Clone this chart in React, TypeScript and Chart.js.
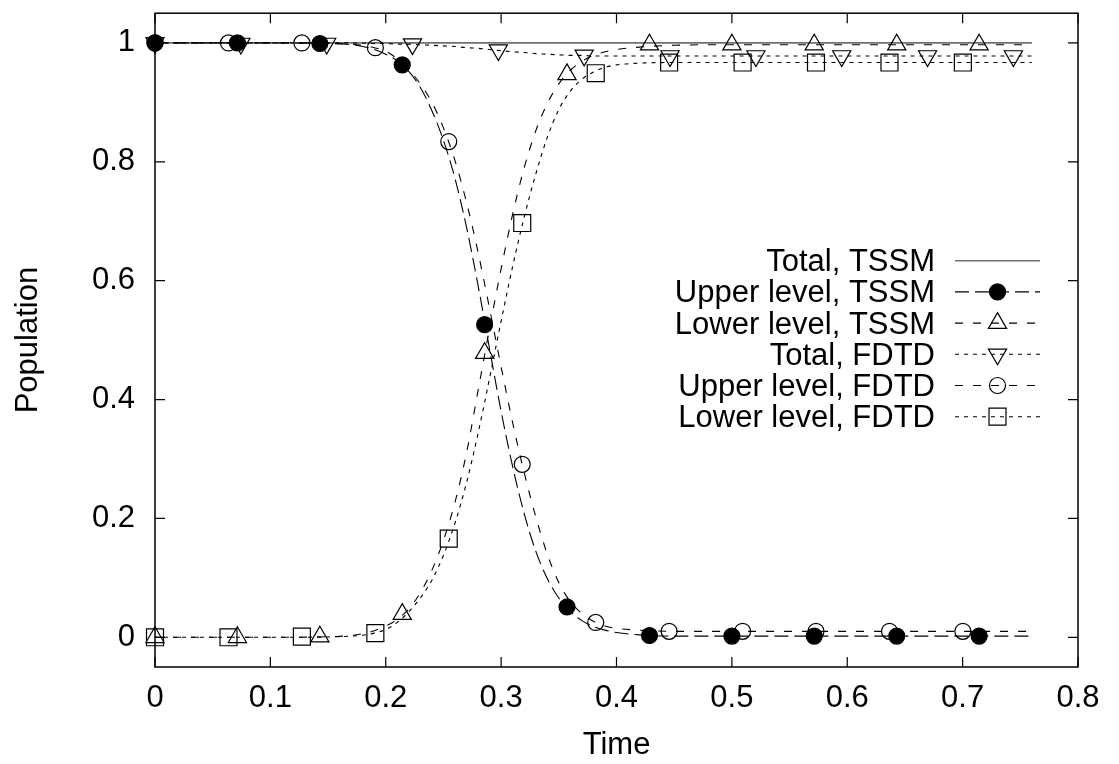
import React, { useEffect, useRef } from 'react';
import { Chart, registerables } from 'chart.js';
import { drawPoint } from 'chart.js/helpers';

Chart.register(...registerables);

// ---------- data ----------
const X_TICKS = [0, 0.1, 0.2, 0.3, 0.4, 0.5, 0.6, 0.7, 0.8];
const X_TICK_LABELS = ['0', '0.1', '0.2', '0.3', '0.4', '0.5', '0.6', '0.7', '0.8'];
const Y_TICKS = [0, 0.2, 0.4, 0.6, 0.8, 1];
const Y_TICK_LABELS = ['0', '0.2', '0.4', '0.6', '0.8', '1'];

const SERIES_LABELS = [
  'Total, TSSM',
  'Upper level, TSSM',
  'Lower level, TSSM',
  'Total, FDTD',
  'Upper level, FDTD',
  'Lower level, FDTD',
];

// time samples of the curves
const CURVE_T = [0, 0.05, 0.1, 0.15, 0.17, 0.18, 0.19, 0.2, 0.21, 0.22, 0.23, 0.24, 0.25, 0.26, 0.27, 0.28, 0.29, 0.3, 0.31, 0.32, 0.33, 0.34, 0.35, 0.36, 0.37, 0.38, 0.39, 0.4, 0.42, 0.45, 0.5, 0.55, 0.6, 0.65, 0.7, 0.76];

const TOTAL_TSSM = [1, 1, 1, 1, 1, 1, 1, 1, 1, 1, 1, 1, 1, 1, 1, 1, 1, 1, 1, 1, 1, 1, 1, 1, 1, 1, 1, 1, 1, 1, 1, 1, 1, 1, 1, 1];
const UPPER_TSSM = [1, 1, 1, 0.999, 0.997, 0.994, 0.989, 0.981, 0.97, 0.952, 0.925, 0.886, 0.836, 0.772, 0.69, 0.592, 0.485, 0.38, 0.287, 0.208, 0.145, 0.099, 0.066, 0.043, 0.028, 0.018, 0.012, 0.008, 0.004, 0.002, 0.002, 0.002, 0.002, 0.002, 0.002, 0.002];
const LOWER_TSSM = [0, 0, 0, 0.001, 0.003, 0.006, 0.011, 0.019, 0.03, 0.048, 0.075, 0.113, 0.163, 0.227, 0.31, 0.415, 0.52, 0.62, 0.712, 0.79, 0.852, 0.898, 0.931, 0.954, 0.969, 0.979, 0.985, 0.989, 0.993, 0.996, 0.997, 0.997, 0.997, 0.997, 0.997, 0.997];
const TOTAL_FDTD = [1, 1, 1, 1, 1, 0.9995, 0.999, 0.999, 0.998, 0.998, 0.997, 0.996, 0.995, 0.994, 0.992, 0.991, 0.989, 0.987, 0.985, 0.984, 0.982, 0.981, 0.98, 0.979, 0.979, 0.978, 0.978, 0.978, 0.978, 0.978, 0.978, 0.978, 0.978, 0.978, 0.978, 0.978];
const UPPER_FDTD = [1, 1, 1, 0.9995, 0.998, 0.996, 0.992, 0.986, 0.973, 0.955, 0.931, 0.9, 0.857, 0.802, 0.732, 0.648, 0.553, 0.455, 0.361, 0.277, 0.203, 0.14, 0.092, 0.06, 0.04, 0.027, 0.019, 0.015, 0.012, 0.01, 0.01, 0.01, 0.01, 0.01, 0.01, 0.01];
const LOWER_FDTD = [0, 0, 0, 0.0005, 0.002, 0.0035, 0.007, 0.013, 0.025, 0.043, 0.066, 0.096, 0.138, 0.192, 0.26, 0.343, 0.436, 0.532, 0.624, 0.707, 0.779, 0.841, 0.888, 0.919, 0.939, 0.951, 0.959, 0.963, 0.966, 0.967, 0.967, 0.967, 0.967, 0.967, 0.967, 0.967];

// marker samples
const TSSM_MARK_T = [0, 0.0714, 0.1429, 0.2143, 0.2857, 0.3571, 0.4286, 0.5, 0.5714, 0.6429, 0.7143];
const UPPER_TSSM_MARK = [1, 1, 0.999, 0.963, 0.526, 0.051, 0.003, 0.002, 0.002, 0.002, 0.002];
const LOWER_TSSM_MARK = [0, 0, 0.001, 0.039, 0.478, 0.947, 0.997, 0.997, 0.997, 0.997, 0.997];
const TOTAL_FDTD_MARK_T = [0, 0.0744, 0.1488, 0.2232, 0.2976, 0.372, 0.4464, 0.5208, 0.5952, 0.6696, 0.744];
const TOTAL_FDTD_MARK = [1, 0.999, 0.999, 0.998, 0.988, 0.979, 0.978, 0.978, 0.978, 0.978, 0.978];
const FDTD_MARK_T = [0, 0.0637, 0.1273, 0.191, 0.2546, 0.3183, 0.382, 0.4456, 0.5093, 0.5729, 0.6366, 0.7002];
const UPPER_FDTD_MARK = [1, 1, 1, 0.992, 0.834, 0.291, 0.025, 0.01, 0.01, 0.01, 0.01, 0.01];
const LOWER_FDTD_MARK = [0, 0, 0.001, 0.007, 0.166, 0.697, 0.949, 0.967, 0.967, 0.967, 0.967, 0.967];

// ---------- styling ----------
const FONT = "'Liberation Sans', Arial, Helvetica, sans-serif";
const FONT_SIZE = 31;

type Style = {
  color: string;
  width: number;
  dash: number[];
  pointStyle: string | false;
  radius: number;
  rotation: number;
  filled: boolean;
};

const STYLES: Style[] = [
  { color: '#707070', width: 1.6, dash: [], pointStyle: false, radius: 0, rotation: 0, filled: false },
  { color: '#000', width: 1.1, dash: [14, 6], pointStyle: 'circle', radius: 8, rotation: 0, filled: true },
  { color: '#000', width: 1.1, dash: [8, 10], pointStyle: 'triangle', radius: 10.5, rotation: 0, filled: false },
  { color: '#000', width: 1.1, dash: [4, 5], pointStyle: 'triangle', radius: 10.5, rotation: 180, filled: false },
  { color: '#000', width: 1.1, dash: [8, 10], pointStyle: 'circle', radius: 8, rotation: 0, filled: false },
  { color: '#000', width: 1.1, dash: [4, 5], pointStyle: 'rect', radius: 12, rotation: 0, filled: false },
];

const toXY = (xs: number[], ys: number[]) => xs.map((x, i) => ({ x, y: ys[i] }));

const framePlugin = {
  id: 'gpFrame',
  beforeDatasetsDraw(chart: any) {
    const { ctx, chartArea, scales } = chart;
    const { left, right, top, bottom } = chartArea;
    ctx.save();
    ctx.strokeStyle = '#000';
    ctx.lineWidth = 1.5;
    ctx.setLineDash([]);
    ctx.strokeRect(left, top, right - left, bottom - top);
    ctx.lineWidth = 1.2;
    ctx.beginPath();
    const L = 10;
    for (const t of scales.x.ticks) {
      const px = scales.x.getPixelForValue(t.value);
      ctx.moveTo(px, bottom); ctx.lineTo(px, bottom - L);
      ctx.moveTo(px, top); ctx.lineTo(px, top + L);
    }
    for (const t of scales.y.ticks) {
      const py = scales.y.getPixelForValue(t.value);
      ctx.moveTo(left, py); ctx.lineTo(left + L, py);
      ctx.moveTo(right, py); ctx.lineTo(right - L, py);
    }
    ctx.stroke();
    ctx.restore();
  },
};

const legendPlugin = {
  id: 'gpLegend',
  afterDraw(chart: any) {
    const ctx = chart.ctx;
    ctx.save();
    ctx.font = `${FONT_SIZE}px ${FONT}`;
    ctx.fillStyle = '#000';
    ctx.textAlign = 'right';
    ctx.textBaseline = 'alphabetic';
    const textRight = 935;
    const x0 = 955, x1 = 1040, xm = 997.5;
    SERIES_LABELS.forEach((label, i) => {
      const s = STYLES[i];
      const yc = 260.7 + i * 31.2;
      ctx.fillStyle = '#000';
      ctx.fillText(label, textRight, yc + 10.5);
      ctx.strokeStyle = s.color;
      ctx.lineWidth = s.width;
      ctx.setLineDash(s.dash);
      ctx.beginPath();
      ctx.moveTo(x0, yc);
      ctx.lineTo(x1, yc);
      ctx.stroke();
      ctx.setLineDash([]);
      if (s.pointStyle) {
        ctx.strokeStyle = '#000';
        ctx.fillStyle = s.filled ? '#000' : 'rgba(0,0,0,0)';
        ctx.lineWidth = 1.2;
        drawPoint(ctx, { pointStyle: s.pointStyle as any, rotation: s.rotation, radius: s.radius, borderWidth: 1.2 }, xm, yc);
      }
    });
    ctx.restore();
  },
};

export default function App() {
  const ref = useRef<HTMLCanvasElement>(null);
  useEffect(() => {
    const curves = [TOTAL_TSSM, UPPER_TSSM, LOWER_TSSM, TOTAL_FDTD, UPPER_FDTD, LOWER_FDTD];
    const marks: ([number[], number[]] | null)[] = [
      null,
      [TSSM_MARK_T, UPPER_TSSM_MARK],
      [TSSM_MARK_T, LOWER_TSSM_MARK],
      [TOTAL_FDTD_MARK_T, TOTAL_FDTD_MARK],
      [FDTD_MARK_T, UPPER_FDTD_MARK],
      [FDTD_MARK_T, LOWER_FDTD_MARK],
    ];
    const datasets: any[] = [];
    let order = 100;
    curves.forEach((c, i) => {
      const s = STYLES[i];
      datasets.push({
        label: SERIES_LABELS[i],
        data: toXY(CURVE_T, c),
        borderColor: s.color,
        borderWidth: s.width,
        borderDash: s.dash,
        pointRadius: 0,
        pointHoverRadius: 0,
        fill: false,
        cubicInterpolationMode: 'monotone',
        order: order--,
      });
      const m = marks[i];
      if (m) {
        datasets.push({
          label: SERIES_LABELS[i] + ' markers',
          data: toXY(m[0], m[1]),
          showLine: false,
          pointStyle: s.pointStyle,
          pointRotation: s.rotation,
          pointRadius: s.radius,
          pointHoverRadius: s.radius,
          pointBorderWidth: 1.2,
          pointBorderColor: '#000',
          pointBackgroundColor: s.filled ? '#000' : 'rgba(0,0,0,0)',
          clip: false,
          order: order--,
        });
      }
    });

    const chart = new Chart(ref.current as HTMLCanvasElement, {
      type: 'line',
      data: { datasets },
      options: {
        animation: false,
        responsive: false,
        events: [],
        layout: { padding: { left: 0, right: 41, top: 12, bottom: 0 } },
        plugins: { legend: { display: false }, tooltip: { enabled: false } },
        scales: {
          x: {
            type: 'linear',
            min: 0,
            max: 0.8,
            afterBuildTicks: (s: any) => { s.ticks = X_TICKS.map((v) => ({ value: v })); },
            afterFit: (s: any) => { s.height = 97; s.paddingLeft = 0; s.paddingRight = 0; },
            ticks: {
              callback: (_v: any, i: number) => X_TICK_LABELS[i],
              font: { family: FONT, size: FONT_SIZE },
              color: '#000',
              padding: 13,
              maxRotation: 0,
              autoSkip: false,
            },
            grid: { display: false, drawTicks: false },
            border: { display: false },
            title: { display: true, text: 'Time', color: '#000', font: { family: FONT, size: FONT_SIZE }, padding: { top: 0, bottom: 0 } },
          },
          y: {
            type: 'linear',
            min: -0.05,
            max: 1.05,
            afterBuildTicks: (s: any) => { s.ticks = Y_TICKS.map((v) => ({ value: v })); },
            afterFit: (s: any) => { s.width = 155; s.paddingTop = 0; s.paddingBottom = 0; },
            ticks: {
              callback: (_v: any, i: number) => Y_TICK_LABELS[i],
              font: { family: FONT, size: FONT_SIZE },
              color: '#000',
              padding: 20,
              autoSkip: false,
            },
            grid: { display: false, drawTicks: false },
            border: { display: false },
            title: { display: true, text: 'Population', color: '#000', font: { family: FONT, size: FONT_SIZE }, padding: { top: 10, bottom: 0 } },
          },
        },
      } as any,
      plugins: [framePlugin, legendPlugin],
    });
    return () => chart.destroy();
  }, []);
  return (
    <canvas
      ref={ref}
      width={1119}
      height={764}
      style={{ position: 'absolute', left: 0, top: 0, width: '1119px', height: '764px', display: 'block' }}
    />
  );
}
